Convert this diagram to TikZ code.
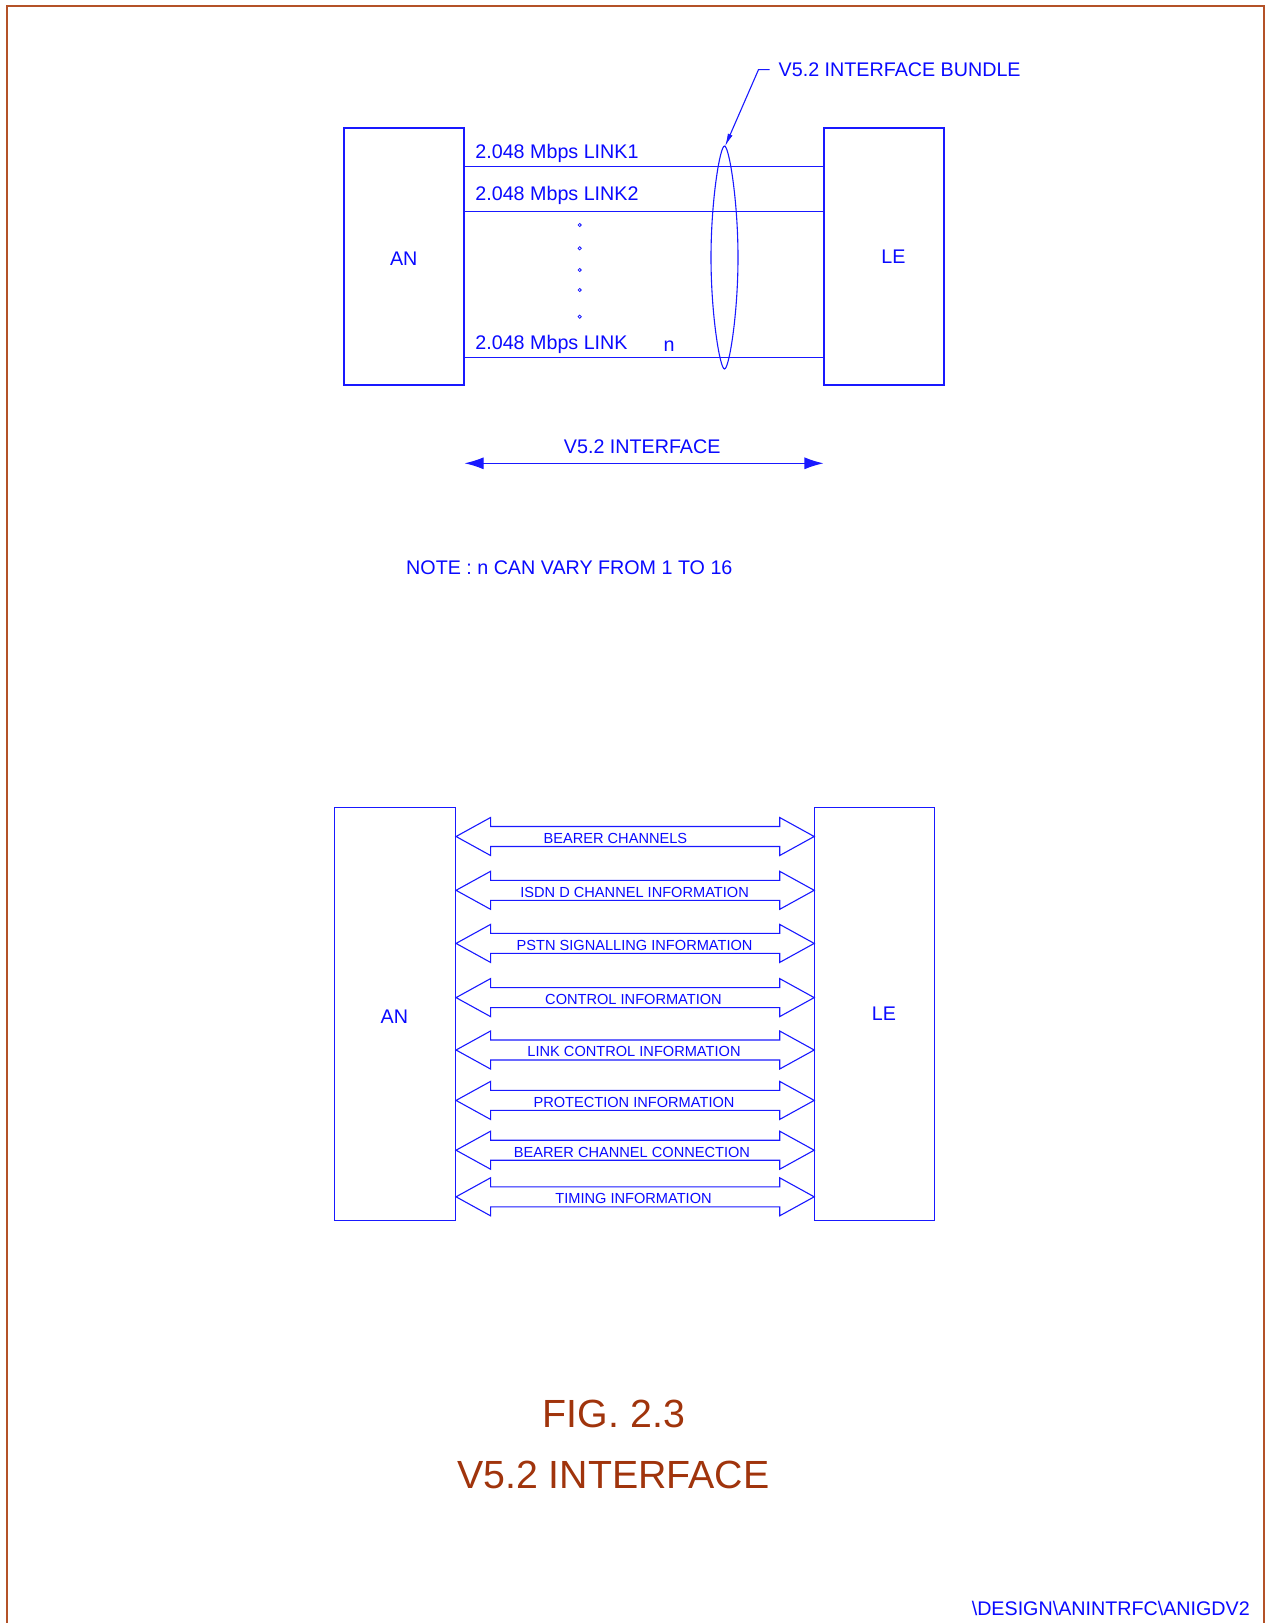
\documentclass[tikz,border=0pt]{standalone}
\usepackage{fontspec}
\setmainfont{Liberation Sans}
\usetikzlibrary{arrows.meta,calc}
\definecolor{framec}{RGB}{180,82,40}
\definecolor{ttlc}{RGB}{160,52,12}
\definecolor{ink}{RGB}{25,25,255}
\definecolor{txtc}{RGB}{10,10,255}
\newcommand\fbig{\fontsize{19.7}{24}\selectfont}
\newcommand\fsmall{\fontsize{14.6}{18}\selectfont}
\newcommand\ftitle{\fontsize{39.3}{46}\selectfont}
\begin{document}
\begin{tikzpicture}[x=1pt,y=-1pt,
  box/.style={draw=ink, line width=1.1pt, inner sep=0pt, minimum width=120pt},
  bigtxt/.style={text=txtc, inner sep=0pt, font=\fbig},
  smalltxt/.style={text=txtc, inner sep=0pt, font=\fsmall},
  ttltxt/.style={text=ttlc, inner sep=0pt, font=\ftitle},
  wire/.style={draw=ink, line width=1.1pt},
  fat/.style={draw=ink, line width=1.1pt, line join=miter},
  dotc/.style={draw=ink, line width=0.8pt}]
\useasboundingbox (0,0) rectangle (1266,1623);
\fill[white] (0,0) rectangle (1266,1623);
% frame
\draw[framec, line width=2pt] (6.5,1623) -- (6.5,5.5) -- (1263.5,5.5) -- (1263.5,1623);

% ---------- top diagram ----------
\node[box, minimum height=257pt] (an1) at (404,256.5) {};
\node[box, minimum height=257pt] (le1) at (884,256.5) {};
\node[bigtxt, anchor=base] (an1t) at (403.7,265.7) {AN};
\node[bigtxt, anchor=base] (le1t) at (893.4,263) {LE};

\draw[wire] (an1.east |- 0,166.5) -- (le1.west |- 0,166.5);
\draw[wire] (an1.east |- 0,211.5) -- (le1.west |- 0,211.5);
\draw[wire] (an1.east |- 0,357.5) -- (le1.west |- 0,357.5);

\node[bigtxt, anchor=base west] (l1) at (475.2,158) {2.048 Mbps LINK1};
\node[bigtxt, anchor=base west] (l2) at (475.2,200) {2.048 Mbps LINK2};
\node[bigtxt, anchor=base west] (ln) at (475.2,349.3) {2.048 Mbps LINK};
\node[bigtxt, anchor=base west] (lnn) at (663.5,351) {n};

\foreach \yy in {225,248.3,270,290,316.7}
  \draw[dotc] (579.7,\yy) circle (1.6);

% bundle lens
\draw[wire] (724.5,146)
  .. controls (720,146) and (711,200) .. (711,257.5)
  .. controls (711,315) and (720,369) .. (724.5,369)
  .. controls (729,369) and (738,315) .. (738,257.5)
  .. controls (738,200) and (729,146) .. (724.5,146) -- cycle;
\coordinate (btip) at (725,146.5);
\node[bigtxt, anchor=base west] (bundle) at (778.5,76.4) {V5.2 INTERFACE BUNDLE};
\draw[wire, -{Latex[length=13pt,width=5pt]}] ([xshift=-9pt]bundle.west) -- ++(-11,0) -- (btip);

% V5.2 interface arrow
\node[bigtxt, anchor=base] (v52) at (642.2,453.3) {V5.2 INTERFACE};
\draw[wire, {Latex[length=19pt,width=12pt]}-{Latex[length=19pt,width=12pt]}]
  (an1.east |- 0,463.3) -- (le1.west |- 0,463.3);

\node[bigtxt, anchor=base west] (note) at (406,574.5) {NOTE : n CAN VARY FROM 1 TO 16};

% ---------- bottom diagram ----------
\node[box, minimum width=121pt, minimum height=413pt] (an2) at (395,1013.8) {};
\node[box, minimum width=120pt, minimum height=413pt] (le2) at (874.75,1013.8) {};
\node[bigtxt, anchor=base] (an2t) at (394.4,1023.3) {AN};
\node[bigtxt, anchor=base] (le2t) at (884,1020) {LE};

\foreach \i/\cy/\lx/\txt in {
  1/836.5/615.4/BEARER CHANNELS,
  2/890.3/634.6/ISDN D CHANNEL INFORMATION,
  3/943.4/634.6/PSTN SIGNALLING INFORMATION,
  4/997.6/633.5/CONTROL INFORMATION,
  5/1050/634/LINK CONTROL INFORMATION,
  6/1100.4/634/PROTECTION INFORMATION,
  7/1150.2/632/BEARER CHANNEL CONNECTION,
  8/1196.8/633.5/TIMING INFORMATION}{
  \path (an2.east |- 0,\cy) coordinate (la\i) (le2.west |- 0,\cy) coordinate (ra\i);
  \draw[fat] (la\i) -- ++(34.5,-19) -- ++(0,9) -- ($(ra\i)+(-34.5,-10)$) -- ++(0,-9)
    -- (ra\i) -- ++(-34.5,19) -- ++(0,-9) -- ($(la\i)+(34.5,10)$) -- ++(0,9) -- cycle;
  \node[smalltxt, anchor=base] (lab\i) at (\lx,{\cy+6.8}) {\txt};
}

% ---------- title ----------
\node[ttltxt, anchor=base] (fig) at (613.9,1427) {FIG. 2.3};
\node[ttltxt, anchor=base] (ttl) at (613.4,1488.5) {V5.2 INTERFACE};

\node[bigtxt, anchor=base east] (foot) at (1250,1615.5) {\textbackslash DESIGN\textbackslash ANINTRFC\textbackslash ANIGDV2};
\end{tikzpicture}
\end{document}
